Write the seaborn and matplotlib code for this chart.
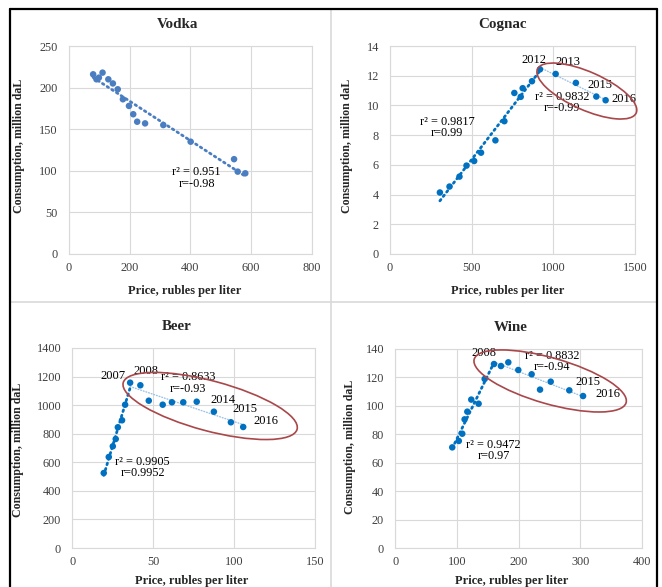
import numpy as np
import pandas as pd
import matplotlib
matplotlib.use("Agg")
import matplotlib.pyplot as plt
import matplotlib.transforms as mtransforms
from matplotlib.patches import Ellipse
from matplotlib.lines import Line2D
import seaborn as sns

years = list(range(2000, 2017))

vodka_price = [80, 91, 99, 111, 130, 145, 161, 178, 198, 212, 225, 251, 311, 401, 544, 556, 581]
vodka_cons = [216, 210, 212, 218, 210, 205, 198, 186, 178, 168, 159, 157, 155, 135, 114, 99, 97]

cognac_price = [306, 365, 426, 469, 516, 558, 646, 701, 762, 801, 813, 870, 919, 1015, 1139, 1264, 1321]
cognac_cons = [4.14, 4.54, 5.21, 5.95, 6.26, 6.82, 7.65, 8.94, 10.84, 10.58, 11.16, 11.63, 12.43, 12.12, 11.52, 10.6, 10.35]

beer_price = [19.5, 22.6, 25.1, 26.9, 28.2, 30.8, 32.7, 35.8, 42.1, 47.3, 55.9, 61.6, 68.6, 76.9, 87.5, 98.0, 105.6]
beer_cons = [525, 637, 712, 763, 845, 894, 1003, 1157, 1139, 1031, 1003, 1020, 1020, 1024, 954, 880, 847]

wine_price = [92.4, 103, 108.6, 112.4, 116.8, 123.2, 135.1, 144.9, 160, 171.3, 183.2, 199.4, 221, 234.6, 251.9, 282, 304.3]
wine_cons = [70.8, 75.3, 80.4, 90.5, 95.9, 104.4, 101.5, 118.9, 129.4, 128, 130.6, 125.2, 122.2, 111.4, 117, 110.9, 106.9]

titles = ["Vodka", "Cognac", "Beer", "Wine"]
fit_texts = [
    [("r\u00b2 = 0.951\nr=-0.98", 421, 91.3)],
    [("r\u00b2 = 0.9817\nr=0.99", 349, 8.51), ("r\u00b2 = 0.9832\nr=-0.99", 1053, 10.2)],
    [("r\u00b2 = 0.9905\nr=0.9952", 43.5, 563), ("r\u00b2 = 0.8633\nr=-0.93", 71.5, 1155)],
    [("r\u00b2 = 0.9472\nr=0.97", 159.5, 68.6), ("r\u00b2 = 0.8832\nr=-0.94", 254, 131.2)],
]
# index where the trend breaks (None = one trend over all points)
breaks = [None, 12, 7, 8]
labelled = [{}, {2012: (-6, 9), 2013: (12, 12), 2015: (4, 12), 2016: (18, 1)},
            {2007: (-17, 7), 2008: (6, 14), 2014: (9, 12), 2015: (14, 13), 2016: (23, 6)},
            {2008: (-10, 11), 2015: (19, 8), 2016: (25, 2)}]
# ellipse: center (data), width/height in px, angle
ellipses = [None, (1206, 10.97, 108, 38, -24), (85.2, 994, 180, 50, -15), (251, 117.5, 158, 46, -16)]

xlims = [(0, 800), (0, 1500), (0, 150), (0, 400)]
xsteps = [200, 500, 50, 100]
ylims = [(0, 250), (0, 14), (0, 1400), (0, 140)]
ysteps = [50, 2, 200, 20]

rects = [(0.104, 0.5673, 0.367, 0.3543), (0.589, 0.5673, 0.370, 0.3543),
         (0.109, 0.0664, 0.367, 0.3408), (0.597, 0.0664, 0.373, 0.3391)]
title_x = [0.449, 0.461, 0.428, 0.466]
xlab = [(0.477, -0.15), (0.48, -0.15), (0.49, -0.135), (0.47, -0.135)]
ylab = [(-0.181, 0.519), (-0.151, 0.519), (-0.2, 0.49), (-0.158, 0.51)]

sns.set_style("whitegrid", {"grid.color": "#D9D9D9", "axes.edgecolor": "#D9D9D9"})
plt.rcParams["font.family"] = ["Liberation Serif", "DejaVu Serif"]

fig = plt.figure(figsize=(6.62, 5.87), dpi=100)

data = [(vodka_price, vodka_cons), (cognac_price, cognac_cons),
        (beer_price, beer_cons), (wine_price, wine_cons)]

for i, (px, cy) in enumerate(data):
    ax = fig.add_axes(rects[i])
    df = pd.DataFrame({"price": px, "cons": cy, "year": years})
    dot = "#4A7EC1" if i == 0 else "#0070C0"

    if breaks[i] is None:
        segs = [(df, dot, 2.0)]
    else:
        b = breaks[i]
        segs = [(df.iloc[:b + 1], dot, 2.0), (df.iloc[b:], "#9DC3E6", 1.0)]
    for seg, col, lw in segs:
        sns.regplot(data=seg, x="price", y="cons", ax=ax, scatter=False, ci=None,
                    truncate=True, color=col,
                    line_kws={"ls": (0, (0.6, 1.4)), "lw": lw, "dash_capstyle": "round"})

    sns.scatterplot(data=df, x="price", y="cons", ax=ax, color=dot, s=22,
                    edgecolor="none", zorder=3)

    for yr, (dx, dy) in labelled[i].items():
        row = df[df["year"] == yr].iloc[0]
        ax.annotate(str(yr), (row["price"], row["cons"]), xytext=(dx, dy),
                    textcoords="offset pixels", ha="center", va="center",
                    fontsize=9.0, color="#000000")

    for txt, tx, ty in fit_texts[i]:
        ax.text(tx, ty, txt, ha="center", va="center", fontsize=8.8,
                linespacing=0.95, color="#000000")

    if ellipses[i] is not None:
        ex, ey, ew, eh, ea = ellipses[i]
        tr = fig.dpi_scale_trans + mtransforms.ScaledTranslation(ex, ey, ax.transData)
        ax.add_patch(Ellipse((0, 0), ew / 100, eh / 100, angle=ea, transform=tr,
                             fill=False, edgecolor="#A9474A", lw=1.2, clip_on=False,
                             zorder=4))

    ax.set_xlim(*xlims[i])
    ax.set_ylim(*ylims[i])
    ax.set_xticks(np.arange(xlims[i][0], xlims[i][1] + 1, xsteps[i]))
    ax.set_yticks(np.arange(ylims[i][0], ylims[i][1] + 0.001, ysteps[i]))
    ax.tick_params(length=0, labelsize=8.8, colors="#404040")
    ax.tick_params(axis="x", pad=6)
    ax.tick_params(axis="y", pad=8)
    for sp in ax.spines.values():
        sp.set_color("#D9D9D9")
        sp.set_linewidth(0.8)
    ax.grid(True, color="#D9D9D9", lw=0.8)

    ax.set_title(titles[i], x=title_x[i], fontsize=10.8, fontweight="bold", pad=13)
    ax.set_xlabel("Price, rubles per liter", fontsize=8.9, fontweight="bold")
    ax.set_ylabel("Consumption, million daL", fontsize=8.6, fontweight="bold")
    ax.xaxis.set_label_coords(*xlab[i])
    ax.yaxis.set_label_coords(*ylab[i])

# panel borders
W, H = 662, 587
def fx(p):
    return p / W
def fy(p):
    return 1 - p / H

fig.add_artist(Line2D([fx(331), fx(331)], [fy(9), 0], color="#D9D9D9", lw=1.2))
fig.add_artist(Line2D([fx(10), fx(657)], [fy(302), fy(302)], color="#D9D9D9", lw=1.2))
fig.add_artist(Line2D([fx(10), fx(10)], [fy(9), 0], color="black", lw=1.6))
fig.add_artist(Line2D([fx(657), fx(657)], [fy(9), 0], color="black", lw=1.6))
fig.add_artist(Line2D([fx(10), fx(657)], [fy(9), fy(9)], color="black", lw=1.6))

fig.savefig("out.png", dpi=100)
